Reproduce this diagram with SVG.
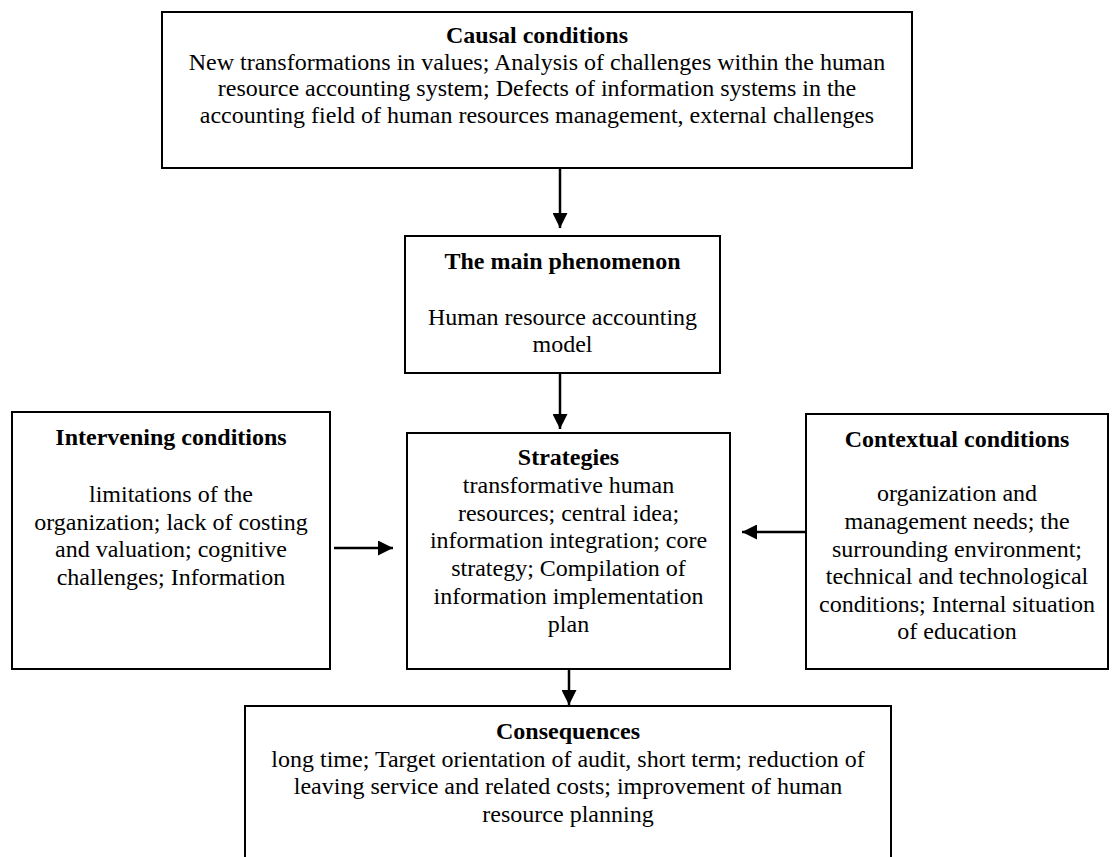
<svg xmlns="http://www.w3.org/2000/svg" width="1112" height="857" viewBox="0 0 1112 857">
<defs>
<style>
.box{fill:#fff;stroke:#000;stroke-width:2}
.t{font-family:"Liberation Serif","Times New Roman",serif;font-size:24px;fill:#000;text-anchor:middle}
.b{font-weight:bold}
.c{stroke:#000;stroke-width:2.5;fill:none}
</style>
<marker id="ah" viewBox="0 0 10 10" refX="10" refY="5" markerWidth="15" markerHeight="15" markerUnits="userSpaceOnUse" orient="auto">
<path d="M0,0 L10,5 L0,10 z" fill="#000"/>
</marker>
</defs>
<rect width="1112" height="857" fill="#fff"/>
<g id="connectors">
<line class="c" x1="560" y1="169" x2="560" y2="228" marker-end="url(#ah)"/>
<line class="c" x1="560" y1="373" x2="560" y2="429" marker-end="url(#ah)"/>
<line class="c" x1="569" y1="669" x2="569" y2="705" marker-end="url(#ah)"/>
<line class="c" x1="334" y1="548" x2="393" y2="548" marker-end="url(#ah)"/>
<line class="c" x1="807" y1="532" x2="742" y2="532" marker-end="url(#ah)"/>
</g>
<g id="causal">
<rect class="box" x="162" y="12" width="750" height="156"/>
<text class="t b" x="537" y="43">Causal conditions</text>
<text class="t" x="537" y="69.5">New transformations in values; Analysis of challenges within the human</text>
<text class="t" x="537" y="96">resource accounting system; Defects of information systems in the</text>
<text class="t" x="537" y="122.5">accounting field of human resources management, external challenges</text>
</g>
<g id="main">
<rect class="box" x="405" y="236" width="315" height="137"/>
<text class="t b" x="562.5" y="269">The main phenomenon</text>
<text class="t" x="562.5" y="325">Human resource accounting</text>
<text class="t" x="562.5" y="352">model</text>
</g>
<g id="intervening">
<rect class="box" x="12" y="412" width="318" height="257"/>
<text class="t b" x="171" y="445">Intervening conditions</text>
<text class="t" x="171" y="502">limitations of the</text>
<text class="t" x="171" y="529.5">organization; lack of costing</text>
<text class="t" x="171" y="557">and valuation; cognitive</text>
<text class="t" x="171" y="584.5">challenges; Information</text>
</g>
<g id="strategies">
<rect class="box" x="407" y="433" width="323" height="236"/>
<text class="t b" x="568.5" y="465">Strategies</text>
<text class="t" x="568.5" y="492.8">transformative human</text>
<text class="t" x="568.5" y="520.6">resources; central idea;</text>
<text class="t" x="568.5" y="548.4">information integration; core</text>
<text class="t" x="568.5" y="576.2">strategy; Compilation of</text>
<text class="t" x="568.5" y="604">information implementation</text>
<text class="t" x="568.5" y="631.8">plan</text>
</g>
<g id="contextual">
<rect class="box" x="806" y="414" width="302" height="255"/>
<text class="t b" x="957" y="447">Contextual conditions</text>
<text class="t" x="957" y="501">organization and</text>
<text class="t" x="957" y="529">management needs; the</text>
<text class="t" x="957" y="557">surrounding environment;</text>
<text class="t" x="957" y="584">technical and technological</text>
<text class="t" x="957" y="612">conditions; Internal situation</text>
<text class="t" x="957" y="639">of education</text>
</g>
<g id="consequences">
<rect class="box" x="245" y="706" width="646" height="200"/>
<text class="t b" x="568" y="739">Consequences</text>
<text class="t" x="568" y="766.6">long time; Target orientation of audit, short term; reduction of</text>
<text class="t" x="568" y="794">leaving service and related costs; improvement of human</text>
<text class="t" x="568" y="822">resource planning</text>
</g>
</svg>
